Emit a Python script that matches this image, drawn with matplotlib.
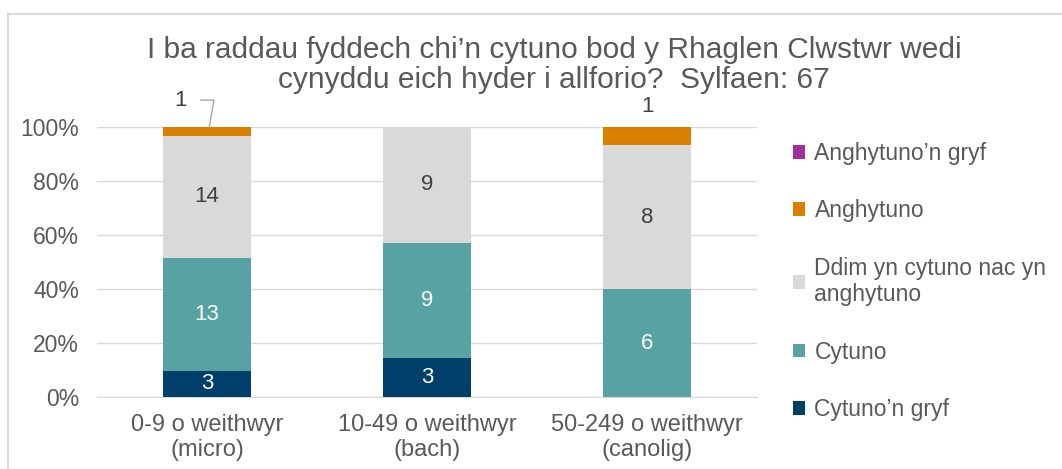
import numpy as np
import matplotlib.pyplot as plt
from matplotlib.patches import Rectangle
from matplotlib.ticker import PercentFormatter

plt.rcParams['font.family'] = ['Liberation Sans', 'DejaVu Sans']

categories = ['0-9 o weithwyr\n(micro)', '10-49 o weithwyr\n(bach)', '50-249 o weithwyr\n(canolig)']
series_names = ['Cytuno\u2019n gryf', 'Cytuno', 'Ddim yn cytuno nac yn\nanghytuno', 'Anghytuno', 'Anghytuno\u2019n gryf']
cytuno_gryf = [3, 3, 0]
cytuno = [13, 9, 6]
ddim = [14, 9, 8]
anghytuno = [1, 0, 1]
anghytuno_gryf = [0, 0, 0]

colors = ['#003F6C', '#57A3A4', '#D9D9D9', '#DB7F00', '#A0309C']
label_colors = ['white', 'white', '#404040', '#404040', '#404040']
title_lines = ['I ba raddau fyddech chi\u2019n cytuno bod y Rhaglen Clwstwr wedi',
               'cynyddu eich hyder i allforio?  Sylfaen: 67']


def main():
    counts = np.array([cytuno_gryf, cytuno, ddim, anghytuno, anghytuno_gryf], dtype=float)
    totals = counts.sum(axis=0)
    shares = counts / totals
    x = np.arange(len(categories))

    fig = plt.figure(figsize=(10.62, 4.69), dpi=100)
    ax = fig.add_axes([0.0913, 0.1535, 0.6217, 0.5755])
    fig.patches.append(Rectangle((7.5 / 1062, -0.1), 1.2, 1.1 - 14.5 / 469,
                                 transform=fig.transFigure, fill=False,
                                 edgecolor='#D9D9D9', linewidth=1.5))

    bottom = np.zeros(len(categories))
    handles = []
    for i, name in enumerate(series_names):
        bars = ax.bar(x, shares[i], 0.4, bottom=bottom, color=colors[i], label=name, zorder=3)
        handles.append(bars)
        for j in range(len(categories)):
            n = counts[i, j]
            if n == 0:
                continue
            if shares[i, j] >= 0.08:
                ax.text(x[j], bottom[j] + shares[i, j] / 2, '{:.0f}'.format(n),
                        ha='center', va='center', fontsize=16, color=label_colors[i], zorder=4)
            elif j == 0:
                ax.annotate('{:.0f}'.format(n), xy=(x[j] + 0.01, bottom[j] + shares[i, j]),
                            xytext=(x[j] - 0.12, 1.1), ha='center', va='center',
                            fontsize=16, color='#404040', annotation_clip=False,
                            arrowprops=dict(arrowstyle='-', color='#A6A6A6', lw=1,
                                            shrinkA=8, shrinkB=0,
                                            connectionstyle='angle,angleA=0,angleB=80,rad=0'))
            else:
                ax.text(x[j], 1.075, '{:.0f}'.format(n), ha='center', va='center',
                        fontsize=16, color='#404040')
        bottom += shares[i]

    ax.set_xlim(-0.5, 2.5)
    ax.set_ylim(0, 1)
    ax.set_yticks(np.linspace(0, 1, 6))
    ax.yaxis.set_major_formatter(PercentFormatter(1.0, decimals=0))
    ax.set_xticks(x)
    ax.set_xticklabels(categories)
    ax.tick_params(axis='y', length=0, labelsize=16.5, colors='#595959', pad=13)
    ax.tick_params(axis='x', length=0, labelsize=17, colors='#595959', pad=12)
    ax.grid(axis='y', color='#D9D9D9', linewidth=1, zorder=0)
    for side in ['top', 'right', 'left']:
        ax.spines[side].set_visible(False)
    ax.spines['bottom'].set_color('#D9D9D9')

    for k, line in enumerate(title_lines):
        fig.text(0.522, 1 - (50 + 30 * k) / 469, line, fontsize=21.5, color='#595959',
                 ha='center', va='center')

    fig.legend(handles[::-1], series_names[::-1], loc='center left',
               bbox_to_anchor=(0.727, 0.40), frameon=False, fontsize=16.5,
               handlelength=0.55, handleheight=0.55, handletextpad=0.4,
               labelspacing=1.5, labelcolor='#595959')

    fig.savefig('out.png', dpi=100)


if __name__ == '__main__':
    main()
